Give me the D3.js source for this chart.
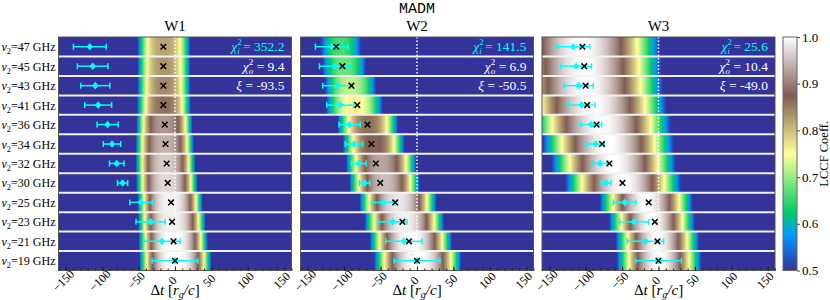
<!DOCTYPE html>
<html>
<head>
<meta charset="utf-8">
<script src="https://cdn.jsdelivr.net/npm/d3@7"></script>
<style>
	body { margin: 0; background: #fff; }
	svg { display: block; }
	svg text { font-family: 'Liberation Serif', 'Times New Roman', Times, 'DejaVu Serif', serif; }
	svg text.mono { font-family: 'Liberation Mono', 'Courier New', 'DejaVu Sans Mono', monospace; }
</style>
</head>
<body>
<div class="svg-container"></div>
<script>
const w = 830;
const h = 300;

// rows (nu_2 in GHz), top to bottom
const freqs = [47, 45, 43, 41, 36, 34, 32, 30, 25, 23, 21, 19];

// observed lags (cyan diamonds) and their errors, same in every panel
const obsLag = [-117, -113, -109.5, -105.5, -92.5, -86.5, -80, -72, -46.5, -33.5, -18, 0];
const obsErr = [22.5, 21, 20, 18.5, 14.5, 12, 10, 7, 15.5, 20, 25, 31.5];

// LCCF peak positions (black crosses)
const peakW1 = [-16, -16, -16, -16, -14, -13, -11.5, -10, -5.5, -4, -2, 0];
const peakW2 = [-111, -102.5, -90, -82, -68, -62.5, -56.5, -50.5, -30, -20, -11, 0];
const peakW3 = [-104.5, -102, -100, -98, -85, -77.5, -67.5, -49.5, -13.5, -5, -1.5, 0];

// LCCF bumps per row: where it rises above 0.5 (lo, hi) and its top value
const loW1 = [-51.5, -51.5, -51.5, -52, -53, -54, -54, -53.5, -51.5, -51, -50, -49];
const hiW1 = [21, 21, 21, 21.5, 24, 26, 28, 31, 38, 42, 45, 50];
const topW1 = [0.82, 0.83, 0.84, 0.86, 0.92, 0.94, 0.96, 0.97, 0.99, 0.99, 1.0, 1.0];

const loW2 = [-132, -130, -127, -125, -109, -102, -97.5, -93, -79, -72, -65, -59];
const hiW2 = [-77, -70, -56, -47, -26, -17, -1, 4, 27, 37, 48, 61];
const topW2 = [0.66, 0.68, 0.72, 0.76, 0.86, 0.88, 0.93, 0.95, 0.98, 0.99, 1.0, 1.0];

const loW3 = [-212, -208, -204, -190, -174, -159, -147, -128, -81, -68, -59, -57.5];
const hiW3 = [2, 4, 6, 11, 17, 21, 24, 31, 47, 50, 56, 59];
const topW3 = [1, 1, 1, 1, 1, 1, 1, 1, 1, 1, 1, 1];

const chiI = ['352.2', '141.5', '25.6'];
const chiO = ['9.4', '6.9', '10.4'];
const xiVals = ['-93.5', '-50.5', '-49.0'];

// how sharply each panel's bumps fall off at their edges
const panels = [
	{name: 'W1', peak: peakW1, lo: loW1, hi: hiW1, top: topW1, fall: 3},
	{name: 'W2', peak: peakW2, lo: loW2, hi: hiW2, top: topW2, fall: 2.5},
	{name: 'W3', peak: peakW3, lo: loW3, hi: hiW3, top: topW3, fall: 2},
];

const cyan = '#00ffff';

const plotTop = 37;
const plotBottom = 270.5;
const lefts = [58.5, 300.5, 542];
const pw = 233;

const svg = d3
	.select('.svg-container')
	.append('svg')
	.attr('width', w)
	.attr('height', h)
	.style('background-color', '#fff');

const defs = svg.append('defs');

// matplotlib "terrain", vmin 0.5, vmax 1.0
const color = d3
	.scaleLinear()
	.domain([0.5, 0.575, 0.625, 0.75, 0.875, 1.0])
	.range(['#333399', '#0099ff', '#00cc66', '#ffff99', '#805c54', '#ffffff'])
	.clamp(true);

const yScale = d3.scaleBand().domain(freqs).range([plotTop, plotBottom]);

const lccf = (t, lo, hi, pk, fall) => {
	if (t <= lo || t >= hi) return 0.49;
	const c = (lo + hi) / 2;
	const u = Math.abs(t - c) / ((hi - lo) / 2);
	return 0.5 + (pk - 0.5) * (1 - Math.pow(u, fall));
};

svg
	.append('text')
	.attr('class', 'mono')
	.attr('x', 417)
	.attr('y', 13)
	.style('font-size', '15px')
	.style('text-anchor', 'middle')
	.text('MADM');

const lags = d3.range(-160, 160.5, 1);

panels.forEach((p, pi) => {
	const x0 = lefts[pi];
	const xScale = d3.scaleLinear().domain([-160, 160]).range([x0, x0 + pw]);
	const g = svg.append('g');

	// heat strips
	freqs.forEach((f, i) => {
		const id = `grad-${pi}-${i}`;
		const grad = defs
			.append('linearGradient')
			.attr('id', id)
			.attr('gradientUnits', 'userSpaceOnUse')
			.attr('x1', xScale(-160))
			.attr('x2', xScale(160))
			.attr('y1', 0)
			.attr('y2', 0);
		grad
			.selectAll('stop')
			.data(lags)
			.enter()
			.append('stop')
			.attr('offset', t => (t + 160) / 320)
			.attr('stop-color', t => color(lccf(t, p.lo[i], p.hi[i], p.top[i], p.fall)));
		g.append('rect')
			.attr('x', xScale(-160))
			.attr('y', yScale(f))
			.attr('width', pw)
			.attr('height', yScale.bandwidth())
			.attr('fill', `url(#${id})`);
	});

	// row separators
	g.selectAll('line.sep')
		.data(freqs.slice(1))
		.enter()
		.append('line')
		.attr('x1', x0)
		.attr('x2', x0 + pw)
		.attr('y1', d => yScale(d))
		.attr('y2', d => yScale(d))
		.attr('stroke', '#f2f2f2')
		.attr('stroke-width', 2);

	// zero lag
	g.append('line')
		.attr('x1', xScale(0))
		.attr('x2', xScale(0))
		.attr('y1', plotTop)
		.attr('y2', plotBottom)
		.attr('stroke', '#fff')
		.attr('stroke-width', 1.5)
		.attr('stroke-dasharray', '1.5,2');

	// error bars
	const eb = g
		.selectAll('g.eb')
		.data(freqs)
		.enter()
		.append('g')
		.attr('transform', f => `translate(0,${yScale(f) + yScale.bandwidth() / 2})`);
	eb.append('line')
		.attr('x1', (f, i) => xScale(obsLag[i] - obsErr[i]))
		.attr('x2', (f, i) => xScale(obsLag[i] + obsErr[i]))
		.attr('stroke', cyan)
		.attr('stroke-width', 1.5);
	eb.append('path')
		.attr('d', (f, i) => {
			const a = xScale(obsLag[i] - obsErr[i]);
			const b = xScale(obsLag[i] + obsErr[i]);
			return `M${a},-3L${a},3M${b},-3L${b},3`;
		})
		.attr('stroke', cyan)
		.attr('stroke-width', 1.5);
	eb.append('path')
		.attr('transform', (f, i) => `translate(${xScale(obsLag[i])},0)`)
		.attr('d', 'M0,-3.8L3.3,0L0,3.8L-3.3,0Z')
		.attr('fill', cyan);
	eb.append('path')
		.attr('transform', (f, i) => `translate(${xScale(p.peak[i])},0)`)
		.attr('d', 'M-2.8,-2.8L2.8,2.8M-2.8,2.8L2.8,-2.8')
		.attr('stroke', '#000')
		.attr('stroke-width', 1.5);

	// frame
	g.append('rect')
		.attr('x', x0)
		.attr('y', plotTop)
		.attr('width', pw)
		.attr('height', plotBottom - plotTop)
		.attr('fill', 'none')
		.attr('stroke', '#555')
		.attr('stroke-width', 1);

	// axes
	const xAxis = d3
		.axisBottom(xScale)
		.tickValues(d3.range(-150, 151, 50))
		.tickSize(-4)
		.tickFormat(d3.format('d'));
	const ax = g
		.append('g')
		.attr('transform', `translate(0, ${plotBottom})`)
		.call(xAxis);
	ax.attr('font-family', null);
	ax.select('.domain').remove();
	ax.selectAll('line').attr('stroke', '#222');
	ax.selectAll('text')
		.attr('y', 0)
		.attr('dy', '0.35em')
		.attr('transform', 'translate(-3,10) rotate(-45)')
		.style('text-anchor', 'middle')
		.style('font-size', '12px')
		.attr('fill', '#000');

	const minor = g
		.append('g')
		.attr('transform', `translate(0, ${plotBottom})`)
		.call(d3.axisBottom(xScale).tickValues(d3.range(-160, 161, 10)).tickSize(-2).tickFormat(''));
	minor.select('.domain').remove();
	minor.selectAll('line').attr('stroke', '#222');

	g.append('text')
		.attr('x', x0 + pw / 2)
		.attr('y', 31)
		.style('font-size', '15px')
		.style('text-anchor', 'middle')
		.text(p.name);

	const xl = g
		.append('text')
		.attr('x', x0 + pw / 2)
		.attr('y', 295)
		.style('font-size', '15px')
		.style('text-anchor', 'middle');
	xl.append('tspan').text('Δ');
	xl.append('tspan').style('font-style', 'italic').text('t');
	xl.append('tspan').text(' [');
	xl.append('tspan').style('font-style', 'italic').text('r');
	xl.append('tspan').style('font-style', 'italic').style('font-size', '10px').attr('dy', 3).text('g');
	xl.append('tspan').style('font-style', 'italic').attr('dy', -3).text('/c');
	xl.append('tspan').text(']');

	// fit statistics
	const ax0 = x0 + pw - 7;
	const rowMid = i => yScale(freqs[i]) + yScale.bandwidth() / 2 + 4.5;
	const chi = (i, sub, val, fill) => {
		const t = g
			.append('text')
			.attr('x', ax0)
			.attr('y', rowMid(i))
			.style('font-size', '13.5px')
			.style('text-anchor', 'end')
			.attr('fill', fill);
		t.append('tspan').style('font-style', 'italic').text('χ');
		t.append('tspan').style('font-size', '9px').attr('dy', -6).text('2');
		t.append('tspan').style('font-size', '9px').style('font-style', 'italic').attr('dx', -4.5).attr('dy', 9).text(sub);
		t.append('tspan').attr('dy', -3).text(` = ${val}`);
	};
	chi(0, 'i', chiI[pi], cyan);
	chi(1, 'o', chiO[pi], '#fff');
	const xt = g
		.append('text')
		.attr('x', ax0)
		.attr('y', rowMid(2))
		.style('font-size', '13.5px')
		.style('text-anchor', 'end')
		.attr('fill', '#fff');
	xt.append('tspan').style('font-style', 'italic').text('ξ');
	xt.append('tspan').text(` = ${xiVals[pi]}`);
});

// row labels
const rl = svg
	.selectAll('text.rowlab')
	.data(freqs)
	.enter()
	.append('text')
	.attr('class', 'rowlab')
	.attr('x', 55.5)
	.attr('y', f => yScale(f) + yScale.bandwidth() / 2 + 4.5)
	.style('font-size', '12.5px')
	.style('text-anchor', 'end');
rl.append('tspan').style('font-style', 'italic').text('ν');
rl.append('tspan').style('font-size', '8.5px').attr('dy', 3).text('2');
rl.append('tspan').attr('dy', -3).text(f => `=${f} GHz`);

// keep the row labels inside the page
rl.each(function () {
	const b = this.getBBox();
	if (b.x < 1) {
		const s = (55.5 - 1) / b.width;
		d3.select(this).style('font-size', `${12.5 * s}px`);
		d3.select(this).select('tspan:nth-child(2)').style('font-size', `${8.5 * s}px`);
	}
});

// colour bar
const cbX = 783;
const cbW = 14;
const cbScale = d3.scaleLinear().domain([0.5, 1]).range([plotBottom, plotTop]);
const cbGrad = defs
	.append('linearGradient')
	.attr('id', 'cb')
	.attr('x1', 0)
	.attr('x2', 0)
	.attr('y1', 1)
	.attr('y2', 0);
cbGrad
	.selectAll('stop')
	.data(color.domain())
	.enter()
	.append('stop')
	.attr('offset', v => (v - 0.5) / 0.5)
	.attr('stop-color', v => color(v));
svg
	.append('rect')
	.attr('x', cbX)
	.attr('y', plotTop)
	.attr('width', cbW)
	.attr('height', plotBottom - plotTop)
	.attr('fill', 'url(#cb)')
	.attr('stroke', '#666')
	.attr('stroke-width', 1);
const cbAxis = svg
	.append('g')
	.attr('transform', `translate(${cbX + cbW}, 0)`)
	.call(
		d3
			.axisRight(cbScale)
			.tickValues([0.5, 0.6, 0.7, 0.8, 0.9, 1.0])
			.tickSize(3)
			.tickPadding(2)
			.tickFormat(d3.format('.1f'))
	);
cbAxis.attr('font-family', null);
cbAxis.select('.domain').remove();
cbAxis.selectAll('line').attr('stroke', '#444');
cbAxis
	.selectAll('text')
	.style('font-size', '13px')
	.attr('fill', '#000');

svg
	.append('text')
	.attr('transform', `translate(827.5, ${(plotTop + plotBottom) / 2}) rotate(-90)`)
	.style('font-size', '12.5px')
	.style('text-anchor', 'middle')
	.text('LCCF Coeff.');
</script>
</body>
</html>
